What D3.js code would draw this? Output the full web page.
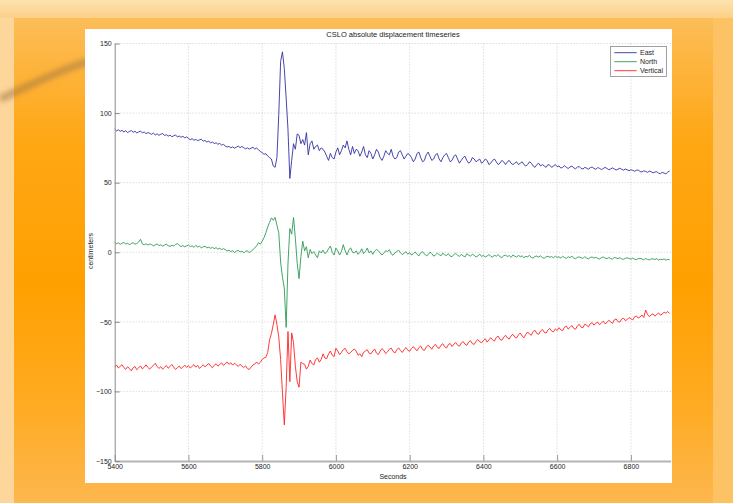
<!DOCTYPE html>
<html>
<head>
<meta charset="utf-8">
<script src="https://cdn.jsdelivr.net/npm/d3@7"></script>
<style>
  html, body { margin: 0; padding: 0; background: #fcd69b; }
  svg { display: block; font-family: "Liberation Sans", Arial, sans-serif; }
</style>
</head>
<body>
<script>
// sample times: start + i * step (seconds)
const tStart = 5400;
const tStep = 5;

const xTicks = [5400, 5600, 5800, 6000, 6200, 6400, 6600, 6800];
const yTicks = [-150, -100, -50, 0, 50, 100, 150];
const seriesNames = ['East', 'North', 'Vertical'];
const seriesColors = ['#3232a2', '#2f9a57', '#ff2424'];

const east = [
  88.5, 87.2, 88.0, 86.9, 87.6, 86.4, 87.3, 86.0, 86.8, 87.5, 86.2, 86.9, 85.7, 86.5, 87.0, 85.9, 86.4, 85.2, 86.0, 85.5,
  84.7, 85.6, 84.3, 85.1, 84.0, 84.8, 85.3, 83.9, 84.5, 83.4, 84.2, 83.0, 83.7, 84.3, 82.9, 83.5, 82.6, 83.3, 82.2, 82.9,
  81.8, 80.9, 81.6, 80.5, 81.1, 80.2, 80.8, 81.2, 79.8, 80.3, 79.2, 79.8, 78.6, 79.2, 78.1, 78.7, 77.6, 78.2, 77.0, 77.5,
  76.4, 75.6, 76.1, 75.0, 75.7, 74.8, 75.5, 76.3, 75.2, 76.0, 75.1, 74.3, 75.0, 74.1, 74.8, 75.4, 74.2, 74.8, 73.6, 72.5,
  71.5, 70.4, 70.8, 69.2, 68.0, 67.0, 62.0, 61.0, 68.0, 99.0, 137.0, 144.0, 132.0, 111.0, 88.0, 53.0, 66.0, 78.0, 74.0, 85.0,
  84, 78, 81, 77, 86, 70, 78, 80, 74, 76, 77, 73, 75, 74, 72, 69, 66, 71, 68, 67,
  72, 75, 70, 73, 77, 75, 80, 74, 70, 76, 71, 74, 73, 69, 72, 76, 70, 68, 73, 71,
  67, 70, 74, 72, 68, 66, 69, 73, 71, 70, 74, 69, 67, 68, 72, 73, 70, 67, 69, 71,
  70, 68, 65, 67, 71, 72, 68, 65, 66, 70, 72, 69, 66, 67, 70, 71, 67, 65, 68, 70,
  71, 68, 65, 66, 69, 70, 67, 64, 66, 68, 69, 66, 64, 65, 68, 67, 65, 66, 67, 64,
  65, 67, 66, 63, 64, 66, 67, 65, 63, 64, 66, 65, 63, 65, 66, 64, 63, 64, 65, 63,
  64, 65, 63, 62, 63, 65, 64, 62, 61, 63, 64, 62, 63, 62, 61, 63, 62.5, 61, 62, 63,
  61.5, 62, 60.5, 61, 62.2, 61, 60.2, 61.3, 62, 60.6, 60, 61.2, 61.6, 60.2, 59.8, 61, 60.4, 59.7, 60.8, 61.2,
  60.2, 59.6, 60.8, 60.3, 59.4, 60.1, 61, 60.2, 59.3, 59.9, 60.6, 59.8, 59.1, 59.7, 60.4, 59.6, 59.0, 59.8, 59.2, 58.6,
  59.3, 58.8, 58.2, 58.9, 59.1, 58.0, 57.7, 58.5, 58.1, 57.4, 58.3, 57.9, 57.0, 57.6, 57.9, 56.8, 56.5, 57.4, 56.9, 56.3,
  57.6, 58.3
];

const north = [
  7.2, 6.1, 6.8, 5.7, 6.5, 7.0, 5.9, 6.4, 5.5, 6.2, 6.9, 5.8, 6.3, 7.4, 9.3, 6.0, 5.4, 6.1, 5.2, 5.9,
  5.5, 4.6, 5.3, 6.0, 4.8, 5.4, 4.4, 5.1, 5.8, 4.7, 4.2, 5.0, 4.5, 5.6, 6.3, 4.9, 4.1, 4.8, 3.9, 4.6,
  5.2, 4.0, 4.6, 3.5, 4.9, 3.8, 4.3, 3.2, 3.9, 4.4, 3.1, 3.7, 2.8, 3.5, 2.6, 3.3, 2.2, 2.9, 1.9, 2.6,
  1.8, 0.9, 1.5, 0.4, 1.2, -0.3, 0.8, 1.4, 0.2, 0.9, -0.5, 0.6, 1.1, -0.4, 0.7, 1.9, 3.1, 4.6, 6.9, 5.8,
  7.9, 10.5, 14.0, 18.2, 21.5, 24.7, 23.0, 25.0, 19.5, 14.0, -7.0, -18.0, -25.6, -54.0, -8.0, 17.0, 13.0, 25.0, 10.0, -8.0,
  -19, -3, 8, 1, 4, -4, 2, -1, 0.5, -2, -4, 1, -0.5, 1.5, -1, 0, 2.5, 4.5, 0, -2,
  3, 1, -2, 0.5, 5.5, 1, -2, 1.5, 3.2, 0, -0.5, 1, -1.5, 0, 2.5, -1, 0.5, 3, -0.5, 1,
  -1.5, 0.8, 2.0, 1.1, -0.5, -2.0, -0.6, 1.2, 0.5, 1.8, -1.2, -2.2, -0.4, 0.6, 1.5, -0.3, -1.8, -0.6, 0.4, -1.4,
  -0.3, -2.0, -1.1, 0.2, -1.5, -2.6, -0.4, 0.4, -1.2, -2.6, -1.8, 0.1, -0.9, -2.8, -1.9, -0.7, -1.7, -2.5, -0.6, -1.8,
  -2.4, -1.0, -2.8, -3.2, -1.6, -0.9, -2.1, -3.0, -1.5, -2.6, -3.4, -1.1, -2.0, -2.9, -1.4, -2.2, -3.5, -2.6, -1.3, -3.0,
  -2.2, -3.4, -2.7, -1.7, -2.8, -3.6, -2.0, -2.9, -1.6, -3.3, -3.8, -2.5, -2.1, -3.0, -2.4, -3.7, -1.9, -2.8, -3.5, -2.3,
  -3.1, -2.6, -3.9, -2.9, -3.3, -2.2, -3.8, -4.1, -3.0, -2.7, -3.5, -2.5, -3.9, -4.3, -3.2, -2.9, -3.6, -3.1, -4.0, -2.8,
  -3.7, -3.3, -4.2, -2.9, -3.8, -4.4, -3.2, -3.9, -2.8, -4.1, -4.6, -3.6, -3.4, -3.9, -4.5, -3.1, -4.2, -4.8, -3.7, -3.5,
  -4.1, -3.6, -4.4, -4.9, -3.9, -3.4, -4.2, -4.7, -3.8, -4.5, -5.0, -3.7, -4.1, -4.6, -3.9, -4.8, -5.1, -4.3, -4.0, -4.5,
  -4.9, -4.2, -5.0, -5.3, -4.6, -4.4, -4.9, -5.4, -4.5, -5.1, -5.5, -4.7, -4.8, -5.2, -4.6, -5.6, -5.0, -5.3, -4.8, -5.7,
  -5.1, -5.4
];

const vertical = [
  -82.5, -81.0, -83.2, -82.0, -80.8, -82.9, -84.1, -82.3, -83.6, -85.2, -83.0, -82.1, -84.4, -83.1, -81.7, -83.8, -82.6, -80.9, -82.8, -84.0,
  -82.4, -81.3, -79.8, -82.0, -83.5, -82.2, -84.0, -82.7, -81.4, -83.3, -82.1, -80.6, -82.5, -84.2, -83.0, -81.8, -83.6, -82.4, -81.1, -82.8,
  -81.5, -83.2, -82.0, -80.7, -82.6, -81.3, -83.5, -82.1, -80.8, -82.4, -81.0, -79.9, -81.8, -83.0, -81.2, -80.1, -81.9, -80.6, -79.5, -81.3,
  -80.2, -78.8, -80.6, -79.4, -81.1, -79.7, -80.9, -82.0, -80.5, -81.8, -82.9, -81.6, -83.6, -84.2, -82.5, -81.0, -80.3, -78.9, -80.4, -79.1,
  -77.0, -76.0, -75.5, -72.0, -63.0, -58.5, -52.0, -45.0, -52.0, -61.0, -77.0, -101.0, -124.0, -97.0, -57.0, -93.0, -58.0, -65.0, -82.0, -93.0,
  -97, -79, -80, -80.5, -84, -82, -77.5, -80, -81, -77, -76, -79, -77, -73, -76, -76.5, -73, -71, -74, -75,
  -69, -71, -73.5, -72, -70, -69, -71.5, -73, -72, -70.5, -69.5, -71, -74, -73, -75, -72, -71, -70, -72.5, -73,
  -71.0, -69.5, -72.5, -73.5, -71.0, -69.2, -70.5, -72.8, -71.5, -69.6, -68.9, -71.3, -72.4, -70.1, -68.7, -70.6, -72.0, -69.8, -68.5, -70.4,
  -71.2, -69.0, -67.8, -69.5, -70.8, -68.6, -67.4, -69.9, -70.5, -68.1, -66.9, -68.0, -69.7, -67.3, -66.2, -68.4, -69.1, -66.8, -65.7, -67.9,
  -68.8, -66.4, -65.6, -67.7, -66.0, -64.9, -66.8, -67.5, -65.2, -64.1, -66.0, -66.9, -64.6, -63.5, -65.7, -66.2, -64.0, -62.8, -64.3, -65.1,
  -63.4, -62.1, -64.6, -63.0, -61.4, -62.9, -63.8, -61.2, -60.3, -62.6, -63.3, -61.0, -59.7, -61.5, -62.4, -60.1, -59.0, -60.9, -61.6, -59.4,
  -58.0, -60.2, -61.5, -59.0, -57.3, -58.8, -59.6, -57.0, -56.1, -58.4, -58.9, -56.6, -55.4, -57.5, -58.1, -55.9, -54.7, -56.6, -57.2, -55.1,
  -56.3, -54.2, -55.7, -56.4, -53.8, -53.1, -55.2, -54.0, -52.6, -54.7, -55.3, -52.9, -51.8, -53.9, -54.2, -51.7, -52.5, -53.6, -51.2, -50.6,
  -52.4, -51.0, -50.2, -52.1, -50.8, -49.5, -51.4, -50.5, -48.9, -50.0, -51.1, -48.6, -47.9, -49.8, -50.2, -48.0, -47.3, -49.1, -48.4, -46.9,
  -47.8, -48.6, -46.4, -45.8, -47.3, -46.5, -45.1, -46.9, -41.5, -44.6, -46.3, -45.0, -44.2, -45.9, -44.8, -43.6, -45.2, -44.5, -43.0, -43.8,
  -42.6, -44.0
];

const w = 733;
const h = 503;
const plot = { left: 114.7, right: 670.7, top: 43.5, bottom: 461 };

const svg = d3.select('body').append('svg')
  .attr('width', w)
  .attr('height', h);

// slide background
const defs = svg.append('defs');
const frameGrad = defs.append('linearGradient')
  .attr('id', 'frame-grad')
  .attr('x1', 0).attr('y1', 0).attr('x2', 0).attr('y2', 1);
frameGrad.append('stop').attr('offset', '0%').attr('stop-color', '#fcbd58');
frameGrad.append('stop').attr('offset', '25%').attr('stop-color', '#ffa715');
frameGrad.append('stop').attr('offset', '55%').attr('stop-color', '#ffa000');
frameGrad.append('stop').attr('offset', '80%').attr('stop-color', '#ffab22');
frameGrad.append('stop').attr('offset', '100%').attr('stop-color', '#fdb74e');

const topGrad = defs.append('linearGradient')
  .attr('id', 'top-grad')
  .attr('x1', 0).attr('y1', 0).attr('x2', 0).attr('y2', 1);
topGrad.append('stop').attr('offset', '0%').attr('stop-color', '#fde3ae');
topGrad.append('stop').attr('offset', '100%').attr('stop-color', '#fcd088');

defs.append('filter')
  .attr('id', 'blur')
  .attr('x', '-20%').attr('y', '-50%').attr('width', '140%').attr('height', '200%')
  .append('feGaussianBlur')
  .attr('stdDeviation', 2.4);

svg.append('rect')
  .attr('width', w).attr('height', h)
  .attr('fill', '#fcd69b');
svg.append('rect')
  .attr('width', w).attr('height', 18)
  .attr('fill', 'url(#top-grad)');
svg.append('rect')
  .attr('x', 14).attr('y', 18)
  .attr('width', 699).attr('height', h - 18)
  .attr('fill', 'url(#frame-grad)');
svg.append('rect')
  .attr('x', 713).attr('y', 18)
  .attr('width', w - 713).attr('height', h - 18)
  .attr('fill', '#fdc264');
svg.append('path')
  .attr('d', 'M0,99 C30,86 58,70 90,61')
  .attr('fill', 'none')
  .attr('stroke', '#a77a44')
  .attr('stroke-opacity', 0.55)
  .attr('stroke-width', 8)
  .attr('filter', 'url(#blur)');

// white figure panel
svg.append('rect')
  .attr('x', 85).attr('y', 29)
  .attr('width', 587).attr('height', 454)
  .attr('fill', '#ffffff');

const xScale = d3.scaleLinear()
  .domain([5400, 6908])
  .range([plot.left, plot.right]);
const yScale = d3.scaleLinear()
  .domain([-150, 150])
  .range([plot.bottom, plot.top]);

// dotted grid
const grid = svg.append('g')
  .attr('stroke', '#c2c2c2')
  .attr('stroke-width', 0.8)
  .attr('stroke-dasharray', '1,2');
grid.selectAll('.vgrid')
  .data(xTicks.slice(1))
  .enter()
  .append('line')
  .attr('x1', d => xScale(d)).attr('x2', d => xScale(d))
  .attr('y1', plot.top).attr('y2', plot.bottom);
grid.selectAll('.hgrid')
  .data(yTicks.slice(1))
  .enter()
  .append('line')
  .attr('x1', plot.left).attr('x2', plot.right)
  .attr('y1', d => yScale(d)).attr('y2', d => yScale(d));

// series
const line = d3.line()
  .x((d, i) => xScale(tStart + i * tStep))
  .y(d => yScale(d));
const seriesData = [east, north, vertical];
svg.append('g')
  .selectAll('path')
  .data(seriesData)
  .enter()
  .append('path')
  .attr('d', line)
  .attr('fill', 'none')
  .attr('stroke', (d, i) => seriesColors[i])
  .attr('stroke-width', 0.9)
  .attr('stroke-linejoin', 'round');

// axes
const xAxis = d3.axisBottom(xScale)
  .tickValues(xTicks)
  .tickFormat(d3.format('d'))
  .tickSizeInner(-6)
  .tickSizeOuter(0)
  .tickPadding(3.5);
const yAxis = d3.axisLeft(yScale)
  .tickValues(yTicks)
  .tickFormat(d3.format('d'))
  .tickSizeInner(-5)
  .tickSizeOuter(0)
  .tickPadding(3);

const gx = svg.append('g')
  .attr('transform', 'translate(0,' + plot.bottom + ')')
  .call(xAxis);
gx.select('.domain').attr('stroke', '#b4b4b4').attr('stroke-width', 1.8);
gx.selectAll('.tick line').attr('stroke', '#9a9a9a');
gx.selectAll('.tick text').attr('fill', '#1e1e1e').style('font-size', '7px');

const gy = svg.append('g')
  .attr('transform', 'translate(' + plot.left + ',0)')
  .call(yAxis);
gy.select('.domain').attr('stroke', '#8a8a8a').attr('stroke-width', 1);
gy.selectAll('.tick line').attr('stroke', '#8a8a8a');
gy.selectAll('.tick text').attr('fill', '#1e1e1e').style('font-size', '7px');

// titles
svg.append('text')
  .attr('x', 393).attr('y', 36.7)
  .attr('text-anchor', 'middle')
  .attr('fill', '#1e1e1e')
  .style('font-size', '7.5px')
  .text('CSLO absolute displacement timeseries');
svg.append('text')
  .attr('x', 393).attr('y', 478.5)
  .attr('text-anchor', 'middle')
  .attr('fill', '#1e1e1e')
  .style('font-size', '7px')
  .text('Seconds');
svg.append('text')
  .attr('transform', 'translate(93.3,251) rotate(-90)')
  .attr('text-anchor', 'middle')
  .attr('fill', '#1e1e1e')
  .style('font-size', '7px')
  .text('centimeters');

// legend
const legend = svg.append('g').attr('id', 'legend');
legend.append('rect')
  .attr('x', 610.5).attr('y', 46.5)
  .attr('width', 56).attr('height', 30)
  .attr('fill', '#ffffff')
  .attr('stroke', '#8a8a8a')
  .attr('stroke-width', 0.8);
const rows = legend.selectAll('.row')
  .data(seriesNames)
  .enter()
  .append('g')
  .attr('transform', (d, i) => 'translate(0,' + (52.7 + i * 9) + ')');
rows.append('line')
  .attr('x1', 614.3).attr('x2', 636.7)
  .attr('stroke', (d, i) => seriesColors[i])
  .attr('stroke-width', 0.9);
rows.append('text')
  .attr('x', 640)
  .attr('dy', '0.35em')
  .attr('fill', '#1e1e1e')
  .style('font-size', '7px')
  .text(d => d);
</script>
</body>
</html>
